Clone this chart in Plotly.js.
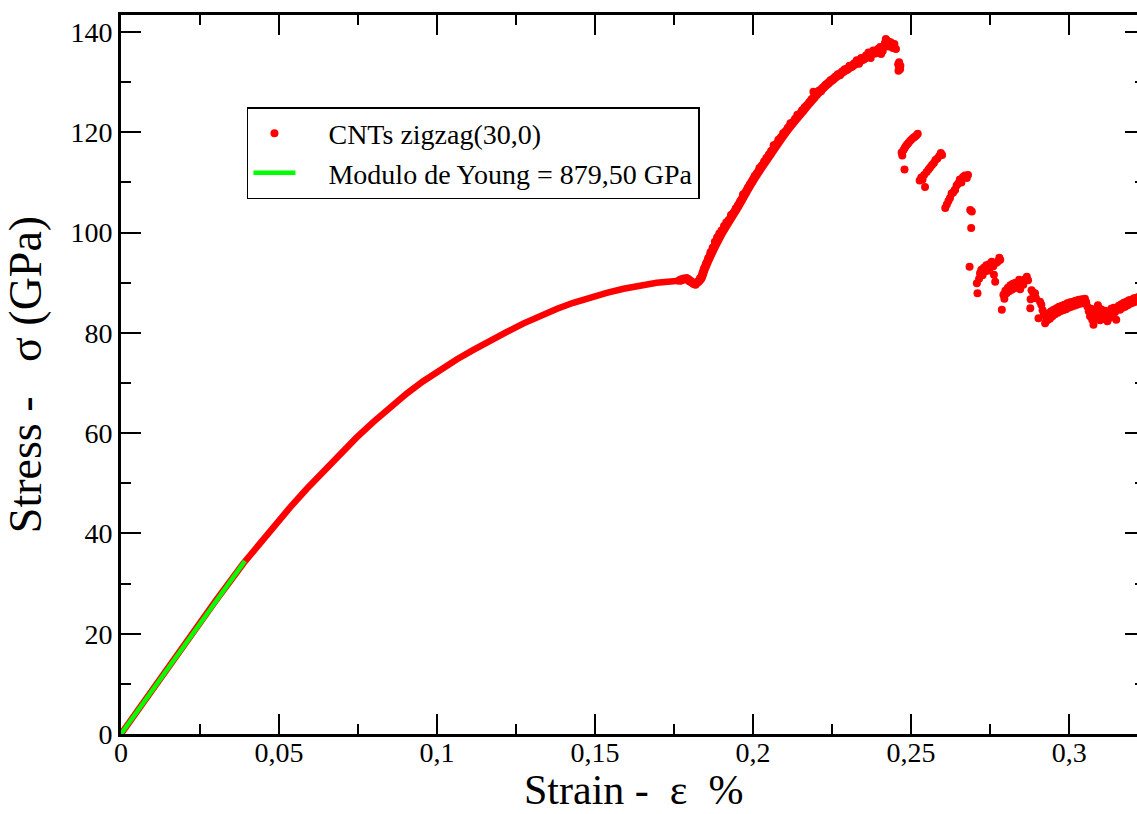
<!DOCTYPE html>
<html>
<head>
<meta charset="utf-8">
<script src="https://cdn.plot.ly/plotly-3.0.1.min.js"></script>
<style>
html,body{margin:0;padding:0;overflow:hidden;background:#fff;}
#chart{width:1150px;height:814px;}
</style>
</head>
<body>
<div id="chart"></div>
<script>
// Smooth elastic/plastic part of the curve (strain fraction, stress GPa)
const strainCurve = [0, 0.01, 0.02, 0.03, 0.0387, 0.0435, 0.0482, 0.0535, 0.0588, 0.064, 0.0693, 0.0745, 0.0798, 0.085, 0.0904, 0.0955, 0.1009, 0.1062, 0.1115, 0.1168, 0.1221, 0.1274, 0.1326, 0.138, 0.1431, 0.1485, 0.1537, 0.159, 0.1642, 0.1695, 0.1748, 0.1765];
const stressCurve = [0, 9.0, 17.9, 26.6, 34.0, 37.7, 41.3, 45.2, 48.9, 52.4, 55.8, 59.1, 62.2, 65.1, 67.9, 70.3, 72.6, 74.7, 76.6, 78.5, 80.2, 81.9, 83.4, 84.8, 86.0, 87.1, 88.0, 88.8, 89.5, 90.0, 90.3, 90.4];

// Second hardening branch (centre line of the point band)
const strainRise = [0.1765, 0.1790, 0.1815, 0.1835, 0.1845, 0.1896, 0.1948, 0.2001, 0.2054, 0.2107, 0.2159, 0.2212, 0.2265, 0.2317, 0.2370, 0.2423, 0.2449];
const stressRise = [90.4, 90.8, 89.8, 90.8, 92.6, 99.4, 104.8, 110.6, 115.6, 120.4, 124.4, 128.3, 131.2, 133.4, 135.4, 137.3, 137.2];

// Scattered points from the plateau onward
const strainPts = [
 0.1765,0.1780,0.1790,0.1798,0.1805,0.1812,0.1818,0.1825,0.1832,0.1840,
 0.1845,0.1852,0.1858,0.1865,0.1872,0.1879,0.1886,0.1893,0.1900,0.1908,
 0.1915,0.1922,0.1930,0.1938,0.1945,0.1952,0.1960,0.1968,0.1975,0.1983,
 0.1990,0.1998,0.2005,0.2012,0.2020,0.2028,0.2035,0.2042,0.2050,0.2057,
 0.2065,0.2072,0.2080,0.2088,0.2095,0.2102,0.2110,0.2118,0.2125,0.2133,
 0.2140,0.2148,0.2155,0.2163,0.2170,0.2178,0.2185,0.2191,0.2193,0.2200,
 0.2208,0.2215,0.2222,0.2230,0.2238,0.2245,0.2253,0.2260,0.2268,0.2275,
 0.2283,0.2290,0.2298,0.2305,0.2313,0.2320,0.2328,0.2335,0.2342,0.2350,
 0.2357,0.2365,0.2372,0.2380,0.2387,0.2395,0.2402,0.2410,0.2417,0.2423,
 0.2430,0.2436,0.2442,0.2447,0.2452,0.2420,0.2432,0.2405,
 0.2459,0.2462,0.2465,0.2462,0.2466,0.2460,
 0.2470,0.2472,0.2476,0.2480,0.2484,0.2488,0.2492,0.2497,0.2502,0.2507,0.2512,0.2517,0.2521,0.2479,
 0.2527,0.2532,0.2536,0.2541,0.2544,0.2549,0.2555,0.2560,0.2566,0.2572,0.2577,0.2583,0.2589,0.2594,0.2598,
 0.2608,0.2613,0.2618,0.2623,0.2628,0.2633,0.2638,0.2644,0.2649,0.2654,0.2659,0.2664,0.2670,0.2676,0.2680,0.2639,
 0.2687,0.2692,0.2690,0.2685,
 0.2708,0.2710,0.2715,0.2718,0.2722,0.2726,0.2730,0.2734,0.2738,0.2742,0.2746,0.2750,0.2755,0.2760,0.2766,0.2770,0.2775,0.2779,0.2782,0.2762,
 0.2787,0.2792,0.2795,0.2798,0.2802,0.2806,0.2810,0.2814,0.2818,0.2822,0.2826,0.2830,0.2835,0.2840,0.2845,0.2850,0.2855,0.2860,0.2866,0.2870,0.2842,
 0.2877,0.2878,0.2881,0.2886,0.2892,0.2895,0.2903,0.2908,0.2912,0.2916,0.2920,0.2924,0.2927,0.2931,
 0.2935,0.2939,0.2943,0.2947,0.2951,0.2955,0.2960,0.2964,0.2968,0.2972,0.2977,0.2981,0.2985,0.2990,0.2994,0.2998,0.3003,0.3007,0.3012,0.3016,0.3020,0.3025,0.3030,0.3035,0.3040,0.3045,0.3050,0.3054,0.3058,
 0.3062,0.3066,0.3070,0.3073,0.3077,0.3080,0.3084,0.3088,0.3091,0.3094,0.3098,0.3101,0.3105,0.3109,0.3113,0.3117,0.3121,0.3125,0.3129,0.3133,0.3137,0.3141,0.3145,0.3149,
 0.3153,0.3157,0.3161,0.3165,0.3169,0.3173,0.3177,0.3181,0.3185,0.3189,0.3193,0.3197,0.3201,0.3205,0.3209,0.3213,0.3217,0.3221,0.3225
];
const stressPts = [
 90.4,90.8,90.9,90.3,90.1,89.8,89.6,90.2,90.9,91.8,
 92.8,93.9,94.9,96.1,97.0,98.2,99.0,99.8,100.4,101.3,
 102.0,102.4,103.5,103.9,104.8,105.4,106.3,107.6,107.9,108.9,
 109.6,110.2,111.3,111.8,112.9,113.4,114.2,114.9,115.6,116.3,
 117.4,117.6,118.5,119.0,119.8,120.1,120.9,121.8,121.9,122.7,
 123.5,123.6,124.4,125.0,125.4,126.0,126.6,128.1,126.9,127.5,
 128.3,128.2,128.9,129.5,129.7,130.4,130.5,131.1,131.6,131.4,
 132.2,132.6,132.5,133.3,133.1,133.8,134.4,133.7,134.8,134.5,
 135.3,135.9,134.8,136.3,135.7,136.6,137.0,136.2,137.8,138.3,
 137.1,137.9,136.8,137.6,136.6,138.6,138.0,135.6,
 133.6,133.0,132.6,134.0,133.3,132.3,
 116.0,115.4,116.5,116.9,117.3,117.6,117.9,118.3,118.6,118.9,119.1,119.4,119.7,112.6,
 110.4,111.0,110.6,111.5,109.1,112.1,112.6,113.0,113.5,113.9,114.5,114.8,115.3,115.9,115.5,
 104.9,105.6,106.3,106.9,107.8,108.0,108.5,109.4,109.8,110.6,110.0,111.1,111.4,110.9,111.5,108.5,
 104.5,104.2,100.9,93.2,
 89.9,87.9,90.8,91.9,92.6,91.5,93.0,92.3,93.5,92.4,93.7,93.0,94.2,93.3,90.2,94.0,94.3,95.0,94.6,91.6,
 84.6,87.6,86.8,88.4,87.9,89.0,88.3,89.5,88.6,89.8,88.9,90.0,89.2,89.9,88.7,90.3,89.6,90.7,91.2,90.5,90.6,
 84.9,86.7,88.5,88.0,87.9,86.9,82.9,86.2,85.6,84.5,83.7,81.9,83.0,82.5,
 83.9,82.8,84.3,83.3,84.6,83.7,84.9,84.0,85.2,84.3,85.4,84.5,85.6,84.7,85.9,85.0,86.1,85.2,86.2,85.4,86.4,85.6,86.6,85.8,86.7,85.9,86.8,86.1,85.2,
 84.3,83.3,84.8,82.6,81.6,83.9,82.9,84.6,85.5,83.4,82.5,84.7,83.6,82.8,84.4,83.2,82.3,84.0,83.0,84.8,83.6,85.0,84.1,82.6,
 84.8,85.4,84.6,85.7,85.0,86.0,85.2,86.2,85.5,86.5,85.8,86.6,86.0,86.9,86.2,87.0,86.5,87.2,86.7
];

// Young's modulus fit line
const youngStrain = [0, 0.0392];
const youngStress = [0, 34.5];

// Axis ticks
const xTickVals = [0, 0.05, 0.1, 0.15, 0.2, 0.25, 0.3];
const xTickText = ["0", "0,05", "0,1", "0,15", "0,2", "0,25", "0,3"];
const yTickVals = [0, 20, 40, 60, 80, 100, 120, 140];
const yTickText = ["0", "20", "40", "60", "80", "100", "120", "140"];

const FONT = "Liberation Serif";
const NB = "\u00a0";

const traces = [
  {
    x: strainPts, y: stressPts, type: "scatter", mode: "markers",
    name: NB + NB + NB + NB + "CNTs zigzag(30,0)",
    marker: {color: "#ff0000", size: 8, line: {width: 0}}
  },
  {
    x: strainCurve, y: stressCurve, type: "scatter", mode: "lines",
    line: {color: "#ff0000", width: 6.5},
    showlegend: false, hoverinfo: "skip"
  },
  {
    x: strainRise, y: stressRise, type: "scatter", mode: "lines",
    line: {color: "#ff0000", width: 9, shape: "spline", smoothing: 0.8},
    showlegend: false, hoverinfo: "skip"
  },
  {
    x: youngStrain, y: youngStress, type: "scatter", mode: "lines",
    name: NB + NB + NB + NB + "Modulo de Young = 879,50 GPa",
    line: {color: "#00ff00", width: 4.5}
  }
];

const axisCommon = {
  showline: true, linecolor: "black", linewidth: 3, mirror: "allticks",
  ticks: "inside", ticklen: 20, tickwidth: 2, tickcolor: "black",
  showgrid: false, zeroline: false,
  tickfont: {family: FONT, size: 28, color: "black"}
};

const layout = {
  width: 1150, height: 814,
  margin: {l: 121, r: 5, t: 15, b: 80},
  paper_bgcolor: "white", plot_bgcolor: "white",
  font: {family: FONT, color: "black"},
  showlegend: true,
  legend: {
    x: 0.123, y: 0.872, xanchor: "left", yanchor: "top",
    bgcolor: "white", bordercolor: "black", borderwidth: 1.5,
    font: {family: FONT, size: 28, color: "black"},
    itemwidth: 42, tracegroupgap: 0
  },
  xaxis: Object.assign({}, axisCommon, {
    range: [0, 0.324],
    tickmode: "array", tickvals: xTickVals, ticktext: xTickText,
    ticklabelstandoff: -9,
    minor: {tickmode: "linear", tick0: 0, dtick: 0.025, ticks: "inside", ticklen: 10, tickwidth: 2, tickcolor: "black", showgrid: false}
  }),
  yaxis: Object.assign({}, axisCommon, {
    range: [0, 143.4],
    tickmode: "array", tickvals: yTickVals, ticktext: yTickText,
    minor: {tickmode: "linear", tick0: 0, dtick: 10, ticks: "inside", ticklen: 10, tickwidth: 2, tickcolor: "black", showgrid: false},
    title: {text: "Stress -" + NB + NB + NB + "σ (GPa)", font: {family: FONT, size: 46, color: "black"}}
  }),
  annotations: [
    {
      text: "Strain -" + NB + NB + "ε" + NB + NB + "%",
      xref: "paper", yref: "paper", x: 0.5, y: -0.0779,
      xanchor: "center", yanchor: "middle", showarrow: false,
      font: {family: FONT, size: 42, color: "black"}
    }
  ]
};

Plotly.newPlot("chart", traces, layout, {displayModeBar: false, staticPlot: true});
</script>
</body>
</html>
